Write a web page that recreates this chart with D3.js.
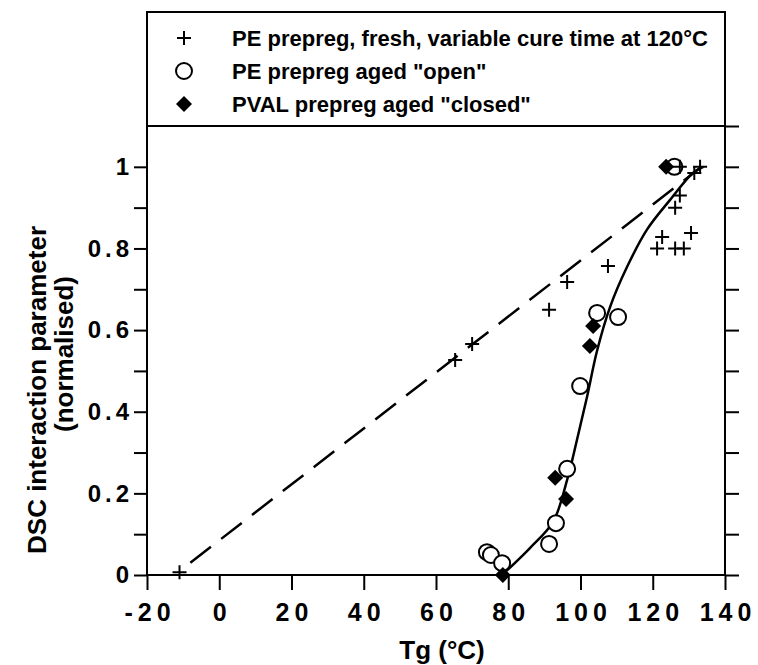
<!DOCTYPE html>
<meta charset="utf-8">
<head>
    <title>DSC interaction parameter vs Tg</title>
    <script type="text/javascript" src="https://d3js.org/d3.v7.min.js"></script>
    <style>
        body { margin: 0; background: #fff; }
        text { font-family: "Liberation Sans", Arial, sans-serif; fill: #000; }
    </style>
</head>
<body>
    <div id="chart"></div>
    <script>
        // data: [Tg (°C), normalised DSC parameter]
        var freshCure = [[-11, 0.007], [65.3, 0.527], [70, 0.566], [91.3, 0.65], [96.3, 0.718],
                         [107.6, 0.757], [121.2, 0.80], [126.2, 0.80], [128.6, 0.80], [122.6, 0.828],
                         [130.6, 0.838], [126.2, 0.90], [127.5, 0.93], [131.5, 0.985], [133.1, 1.0], [127.5, 1.0]];
        var agedOpen = [[74.1, 0.056], [75.2, 0.049], [78.3, 0.029], [91.3, 0.076], [93.2, 0.127],
                        [96.3, 0.26], [99.9, 0.463], [104.6, 0.642], [110.4, 0.632], [126, 1.0]];
        var agedClosed = [[78.5, 0.0], [93, 0.238], [96, 0.186], [102.6, 0.561], [103.5, 0.61], [123.7, 1.0]];
        // fitted trend curves
        var sigmoidFit = [[79.5, 0.01], [86, 0.066], [92.4, 0.13], [96.3, 0.233], [99, 0.33], [101.8, 0.436],
                          [104.6, 0.55], [108.2, 0.657], [112.9, 0.755], [118.4, 0.846], [124.8, 0.919],
                          [131.1, 0.985], [134, 1.0]];
        var linearFit = [[-8, 0.03], [133.5, 1.0]];

        var xTicks = [-20, 0, 20, 40, 60, 80, 100, 120, 140];
        var yTicks = [0, 0.1, 0.2, 0.3, 0.4, 0.5, 0.6, 0.7, 0.8, 0.9, 1.0];
        var legendLabels = ["PE prepreg, fresh, variable cure time at 120\u00B0C",
                            "PE prepreg aged \"open\"",
                            "PVAL prepreg aged \"closed\""];

        var width = 758, height = 665;
        var margin = { top: 126, left: 147, right: 33, bottom: 90 };

        var svg = d3.select("#chart").append("svg")
                    .attr("width", width)
                    .attr("height", height);

        var x = d3.scaleLinear().domain([-20, 140]).range([margin.left, width - margin.right]);
        var y = d3.scaleLinear().domain([0, 1.1]).range([height - margin.bottom, margin.top]);

        // axes
        var xAxis = svg.append("g")
                       .attr("transform", `translate(0, ${y(0)})`)
                       .call(d3.axisBottom(x).tickValues(xTicks).tickSize(15).tickSizeOuter(0).tickPadding(13)
                               .tickFormat(function(d) { return String(d); }));
        xAxis.selectAll("text").attr("font-size", "25px").attr("font-weight", "bold")
             .attr("letter-spacing", "5px").attr("dx", "2.5px");

        var yAxis = svg.append("g")
                       .attr("transform", `translate(${x(-20)}, 0)`)
                       .call(d3.axisLeft(y).tickValues(yTicks).tickSize(13).tickSizeOuter(0).tickPadding(5)
                               .tickFormat(function(d) {
                                   var r = Math.round(d * 10);
                                   if (r % 2 != 0) return "";
                                   return (r == 0 || r == 10) ? String(r / 10) : d.toFixed(1);
                               }));
        yAxis.selectAll("text").attr("font-size", "24px").attr("font-weight", "bold")
             .attr("letter-spacing", "4px").attr("dx", "4px");

        var yRight = svg.append("g")
                        .attr("transform", `translate(${x(140)}, 0)`)
                        .call(d3.axisRight(y).tickValues(yTicks.concat([1.1])).tickSize(14).tickSizeOuter(0).tickFormat(""));

        svg.selectAll(".domain").remove();
        svg.selectAll(".tick line").attr("stroke", "#000").attr("stroke-width", 2);

        // plot frame + legend box
        svg.append("rect")
           .attr("x", x(-20)).attr("y", y(1.1))
           .attr("width", x(140) - x(-20)).attr("height", y(0) - y(1.1))
           .attr("fill", "none").attr("stroke", "#000").attr("stroke-width", 2);
        svg.append("rect")
           .attr("x", x(-20)).attr("y", 12)
           .attr("width", x(140) - x(-20)).attr("height", y(1.1) - 12)
           .attr("fill", "none").attr("stroke", "#000").attr("stroke-width", 2);

        // trend lines
        var line = d3.line().x(function(d) { return x(d[0]); }).y(function(d) { return y(d[1]); });
        svg.append("path").datum(linearFit)
           .attr("d", line).attr("fill", "none").attr("stroke", "#000")
           .attr("stroke-width", 2.5).attr("stroke-dasharray", "26,13");
        svg.append("path").datum(sigmoidFit)
           .attr("d", line.curve(d3.curveCatmullRom)).attr("fill", "none").attr("stroke", "#000")
           .attr("stroke-width", 2.5);

        // markers
        function plus(g, cx, cy) {
            g.append("path").attr("d", `M${cx - 7},${cy}H${cx + 7}M${cx},${cy - 7}V${cy + 7}`)
             .attr("stroke", "#000").attr("stroke-width", 2);
        }
        function circle(g, cx, cy) {
            g.append("circle").attr("cx", cx).attr("cy", cy).attr("r", 8)
             .attr("fill", "#fff").attr("stroke", "#000").attr("stroke-width", 2);
        }
        function diamond(g, cx, cy) {
            g.append("path").attr("d", `M${cx},${cy - 8}L${cx + 8},${cy}L${cx},${cy + 8}L${cx - 8},${cy}Z`)
             .attr("fill", "#000");
        }

        var pts = svg.append("g");
        agedOpen.forEach(function(d) { circle(pts, x(d[0]), y(d[1])); });
        agedClosed.forEach(function(d) { diamond(pts, x(d[0]), y(d[1])); });
        freshCure.forEach(function(d) { plus(pts, x(d[0]), y(d[1])); });

        // legend
        var legend = svg.append("g");
        var markers = [plus, circle, diamond];
        legendLabels.forEach(function(label, i) {
            var ly = 38 + i * 33;
            markers[i](legend, 184, ly);
            legend.append("text").attr("x", 232).attr("y", ly + 8)
                  .attr("font-size", "22px").attr("font-weight", "bold").text(label);
        });

        // axis titles
        svg.append("text").attr("x", 442).attr("y", 659).attr("text-anchor", "middle")
           .attr("font-size", "26px").attr("font-weight", "bold").text("Tg (\u00B0C)");
        svg.append("text").attr("transform", "translate(46, 390) rotate(-90)").attr("text-anchor", "middle")
           .attr("font-size", "26px").attr("font-weight", "bold").text("DSC interaction parameter");
        svg.append("text").attr("transform", "translate(73, 354) rotate(-90)").attr("text-anchor", "middle")
           .attr("font-size", "26px").attr("font-weight", "bold").text("(normalised)");
    </script>
</body>
</html>
